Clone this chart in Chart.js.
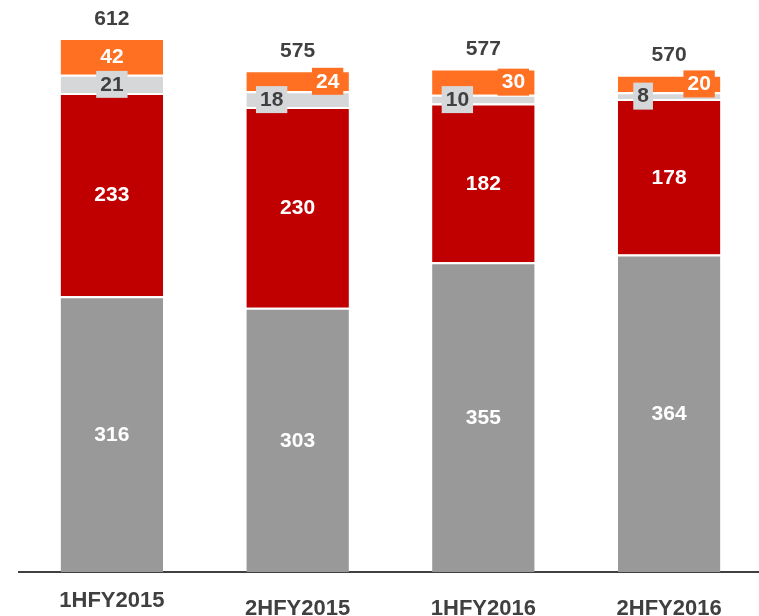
<!DOCTYPE html>
<html>
<head>
<meta charset="utf-8">
<script src="https://cdn.jsdelivr.net/npm/chart.js"></script>
<style>
  html, body { margin: 0; padding: 0; background: #fff; overflow: hidden; }
  #wrap { width: 759px; height: 616px; overflow: hidden; }
</style>
</head>
<body>
<div id="wrap"><canvas id="chart" width="762" height="616"></canvas></div>
<script>
// === data ===
const categories = ["1HFY2015", "2HFY2015", "1HFY2016", "2HFY2016"];
const baseGrey = [316, 303, 355, 364];
const redPart = [233, 230, 182, 178];
const lightGrey = [21, 18, 10, 8];
const orangePart = [42, 24, 30, 20];
const totals = [612, 575, 577, 570];

const dark = "#404040";
const numFont = "bold 21px 'Liberation Sans', Arial, sans-serif";

// labels in de segmenten + totalen erboven
const labelPlugin = {
  id: "segLabels",
  afterDatasetsDraw(chart) {
    const ctx = chart.ctx;
    ctx.save();
    ctx.font = numFont;
    ctx.textAlign = "center";
    ctx.textBaseline = "middle";

    chart.data.datasets.forEach((ds, di) => {
      const meta = chart.getDatasetMeta(di);
      meta.data.forEach((bar, i) => {
        const v = ds.data[i];
        let x = bar.x;
        const y = (bar.y + bar.base) / 2;
        const txt = String(v);

        if (ds.kind === "small") {
          // lichtgrijs: klein segment -> label naar links met box
          if (v < 20) x -= 26;
          const w = ctx.measureText(txt).width + 8;
          ctx.fillStyle = ds.backgroundColor;
          ctx.fillRect(x - w / 2, y - 13, w, 27);
          ctx.fillStyle = dark;
        } else if (ds.kind === "top") {
          // oranje: klein segment -> label naar rechts met box
          if (v < 40) x += 30;
          const w = ctx.measureText(txt).width + 8;
          ctx.fillStyle = ds.backgroundColor;
          ctx.fillRect(x - w / 2, y - 13, w, 27);
          ctx.fillStyle = "#fff";
        } else {
          ctx.fillStyle = "#fff";
        }
        ctx.fillText(txt, x, y + 1);
      });
    });

    // totalen
    const last = chart.getDatasetMeta(chart.data.datasets.length - 1);
    ctx.fillStyle = dark;
    last.data.forEach((bar, i) => {
      ctx.fillText(String(totals[i]), bar.x, bar.y - 19);
    });

    // categorie-labels onder de as
    ctx.font = "bold 22px 'Liberation Sans Narrow', 'Arial Narrow', sans-serif";
    const xs = chart.scales.x;
    const bottom = chart.chartArea.bottom;
    categories.forEach((c, i) => {
      const yy = bottom + (i === 0 ? 29 : 37);
      ctx.fillText(c, xs.getPixelForValue(i), yy);
    });
    ctx.restore();
  }
};

new Chart(document.getElementById("chart"), {
  type: "bar",
  data: {
    labels: categories,
    datasets: [
      { data: baseGrey, backgroundColor: "#999999" },
      { data: redPart, backgroundColor: "#C00000" },
      { data: lightGrey, backgroundColor: "#D6D7D9", kind: "small" },
      { data: orangePart, backgroundColor: "#FF7022", kind: "top" }
    ].map((d) => Object.assign(d, {
      borderColor: "#ffffff",
      borderWidth: { top: 2, left: 0, right: 0, bottom: 0 },
      borderSkipped: false,
      categoryPercentage: 1,
      barPercentage: 0.552
    }))
  },
  options: {
    responsive: false,
    animation: false,
    layout: { padding: { left: 19, right: 0, top: 0, bottom: 44 } },
    plugins: { legend: { display: false }, tooltip: { enabled: false } },
    scales: {
      x: {
        stacked: true,
        grid: { display: false, drawTicks: false },
        border: { display: true, color: "#404040", width: 2 },
        ticks: { display: false }
      },
      y: {
        stacked: true,
        display: false,
        min: 0,
        max: 655.6
      }
    }
  },
  plugins: [labelPlugin]
});
</script>
</body>
</html>
